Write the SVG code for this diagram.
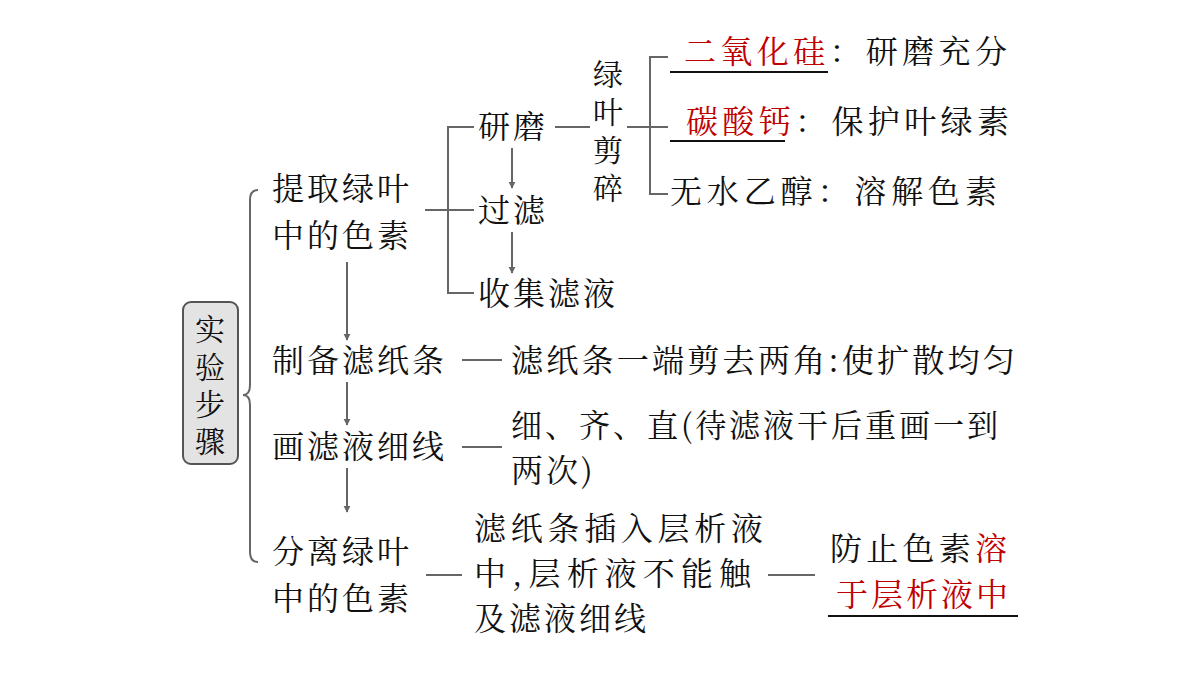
<svg xmlns="http://www.w3.org/2000/svg" width="1200" height="675" viewBox="0 0 1200 675">
<style>
text{font-family:"Noto Serif CJK SC","Noto Sans CJK SC",serif;font-size:32px;fill:#111;letter-spacing:3px}
.v{font-size:30px;letter-spacing:0;text-anchor:middle}
.r{fill:#c00000}
.c line,.c path,.c polyline{stroke:#666;stroke-width:2;fill:none}
.u{stroke:#111;stroke-width:2}
</style>
<defs><marker id="a" viewBox="0 0 10 10" refX="9" refY="5" markerWidth="7" markerHeight="9" orient="auto" markerUnits="userSpaceOnUse"><path d="M0,0L10,5L0,10z" fill="#666"/></marker></defs>
<rect width="1200" height="675" fill="#fff"/>
<g class="c">
<path d="M258,190 Q250,190 250,200 L250,385 Q250,395 243,395 Q250,395 250,405 L250,552 Q250,562 258,562"/>
<line x1="425" y1="210" x2="448" y2="210"/>
<polyline points="474,127 448,127 448,293 474,293"/>
<line x1="448" y1="210" x2="474" y2="210"/>
<line x1="512" y1="148" x2="512" y2="188" marker-end="url(#a)"/>
<line x1="512" y1="232" x2="512" y2="273" marker-end="url(#a)"/>
<line x1="555" y1="127" x2="590" y2="127"/>
<line x1="627" y1="127" x2="668" y2="127"/>
<polyline points="668,57 650,57 650,194 668,194"/>
<line x1="347" y1="262" x2="347" y2="340" marker-end="url(#a)"/>
<line x1="347" y1="382" x2="347" y2="425" marker-end="url(#a)"/>
<line x1="347" y1="468" x2="347" y2="512" marker-end="url(#a)"/>
<line x1="462" y1="360" x2="502" y2="360"/>
<line x1="462" y1="447" x2="502" y2="447"/>
<line x1="426" y1="575" x2="462" y2="575"/>
<line x1="768" y1="575" x2="815" y2="575"/>
</g>
<g id="n0"><rect x="183" y="302" width="55" height="162" rx="8" fill="#e3e3e3" stroke="#555" stroke-width="2"/>
<text class="v" x="210" y="340">实</text><text class="v" x="210" y="378">验</text><text class="v" x="210" y="415">步</text><text class="v" x="210" y="452">骤</text></g>
<g id="n1"><text x="272" y="200">提取绿叶</text><text x="272" y="247">中的色素</text></g>
<g id="n2"><text x="478" y="138">研磨</text></g>
<g id="n3"><text x="478" y="222">过滤</text></g>
<g id="n4"><text x="478" y="305">收集滤液</text></g>
<g id="n5"><text class="v" x="608" y="85">绿</text><text class="v" x="608" y="123">叶</text><text class="v" x="608" y="161">剪</text><text class="v" x="608" y="199">碎</text></g>
<g id="n6"><text x="684" y="63" textLength="326" lengthAdjust="spacing"><tspan class="r">二氧化硅</tspan>：研磨充分</text><line class="u" x1="670" y1="72" x2="828" y2="72"/></g>
<g id="n7"><text x="686" y="133" textLength="326" lengthAdjust="spacing"><tspan class="r">碳酸钙</tspan>：保护叶绿素</text><line class="u" x1="670" y1="141" x2="785" y2="141"/></g>
<g id="n8"><text x="670" y="203" textLength="330" lengthAdjust="spacing">无水乙醇：溶解色素</text></g>
<g id="n9"><text x="272" y="372">制备滤纸条</text></g>
<g id="n10"><text x="511" y="372" textLength="507" lengthAdjust="spacingAndGlyphs">滤纸条一端剪去两角:使扩散均匀</text></g>
<g id="n11"><text x="272" y="458">画滤液细线</text></g>
<g id="n12"><text x="511" y="437" textLength="490" lengthAdjust="spacingAndGlyphs">细、齐、直(待滤液干后重画一到</text><text x="511" y="482">两次)</text></g>
<g id="n13"><text x="272" y="563">分离绿叶</text><text x="272" y="610">中的色素</text></g>
<g id="n14"><text x="474" y="540" textLength="292" lengthAdjust="spacing">滤纸条插入层析液</text><text x="474" y="585" textLength="280" lengthAdjust="spacing">中,层析液不能触</text><text x="474" y="630">及滤液细线</text></g>
<g id="n15"><text x="830" y="560" textLength="180" lengthAdjust="spacing">防止色素<tspan class="r">溶</tspan></text><text x="836" y="606" class="r">于层析液中</text><line class="u" x1="828" y1="616" x2="1018" y2="616"/></g>
</svg>
